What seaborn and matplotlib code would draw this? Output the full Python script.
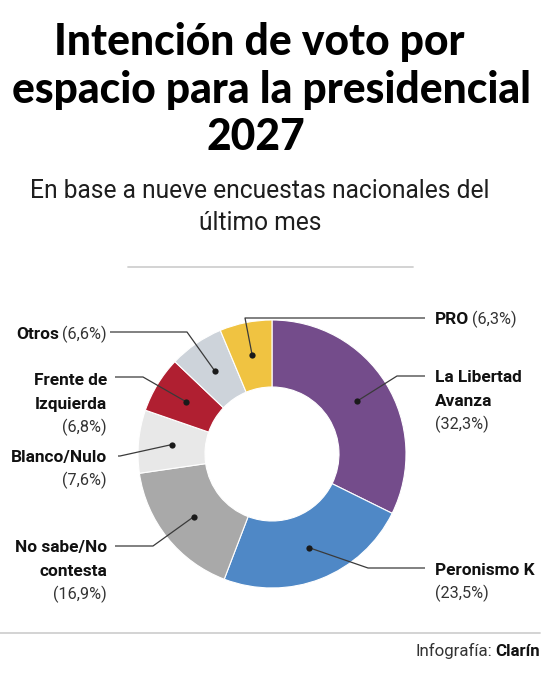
import matplotlib
matplotlib.use("Agg")
import matplotlib.pyplot as plt
from matplotlib import font_manager
import numpy as np
import seaborn as sns

# data
parties = ["La Libertad Avanza", "Peronismo K", "No sabe/No contesta", "Blanco/Nulo",
           "Frente de Izquierda", "Otros", "PRO"]
shares = [32.3, 23.5, 16.9, 7.6, 6.8, 6.6, 6.3]
label_lines = [["La Libertad", "Avanza"], ["Peronismo K"], ["No sabe/No", "contesta"],
               ["Blanco/Nulo"], ["Frente de", "Izquierda"], ["Otros"], ["PRO"]]
inline_pct = [False, False, False, False, False, True, True]
colors = ["#744c8b", "#4f88c6", "#a9a9a9", "#e8e8e8", "#b01f31", "#cdd3da", "#f0c341"]

title_lines = ["Intención de voto por", "espacio para la presidencial", "2027"]
subtitle_lines = ["En base a nueve encuestas nacionales del", "último mes"]

# layout (image pixel coords, y down)
W, H = 546, 680
CX, CY, R = 272, 454, 134
side = ["R", "R", "L", "L", "L", "L", "R"]
first_base = [382, 575, 552, 462, 385, 339, 324]
elbow = [(397, 376), (368, 568), (153, 546), (120, 456), (143, 377), (187, 332), (245, 318)]
line_end = [425, 425, 115, 118, 115, 110, 425]

sns.set_theme(style="white")
names = {f.name for f in font_manager.fontManager.ttflist}
if "Lato" in names:
    title_font = dict(family="Lato", weight="black")
elif "Roboto" in names:
    title_font = dict(family="Roboto", weight="black")
else:
    title_font = dict(family="DejaVu Sans", weight="bold")
lab_font = "Roboto" if "Roboto" in names else "DejaVu Sans"
plt.rcParams["font.family"] = [lab_font, "DejaVu Sans"]

fig = plt.figure(figsize=(W / 100, H / 100), dpi=100)
ax = fig.add_axes([0, 0, 1, 1])
Y = lambda y: H - y

pal = sns.color_palette(colors)
wedges, _ = ax.pie(shares, colors=pal, startangle=90, counterclock=False, radius=R,
                   center=(CX, Y(CY)), wedgeprops=dict(width=R / 2, edgecolor="white", linewidth=0.8))
ax.set_xlim(0, W)
ax.set_ylim(0, H)
ax.axis("off")

renderer = fig.canvas.get_renderer()


def fit(t, target):
    w = t.get_window_extent(renderer=renderer).width
    t.set_fontsize(t.get_fontsize() * target / w)
    return t.get_fontsize()


def width(t):
    return t.get_window_extent(renderer=renderer).width


# title
t = ax.text(271, Y(103), title_lines[1], ha="center", va="baseline", color="black", fontsize=27, **title_font)
fs = fit(t, 518)
ax.text(259, Y(55), title_lines[0], ha="center", va="baseline", color="black", fontsize=fs, **title_font)
ax.text(256, Y(150), title_lines[2], ha="center", va="baseline", color="black", fontsize=fs, **title_font)

# subtitle
t = ax.text(260, Y(198), subtitle_lines[0], ha="center", va="baseline", color="#1e1e1e",
            fontsize=16, fontweight="normal")
sfs = fit(t, 460)
ax.text(260, Y(230), subtitle_lines[1], ha="center", va="baseline", color="#1e1e1e",
        fontsize=sfs, fontweight="normal")

ax.plot([128, 413], [Y(267), Y(267)], color="#d0d0d0", lw=1.3)
ax.plot([0, 540], [Y(633), Y(633)], color="#d0d0d0", lw=1.3)

# label font sizes
probe = ax.text(0, 0, "Peronismo K", fontweight="bold", fontsize=11)
bfs = fit(probe, 100)
probe.remove()
probe = ax.text(0, 0, "(32,3%)", fontsize=11)
rfs = fit(probe, 54)
probe.remove()

lead = dict(color="#3a3a3a", lw=0.9, solid_capstyle="butt")
for i, w in enumerate(wedges):
    mid = np.deg2rad((w.theta1 + w.theta2) / 2)
    dx, dy = CX + 0.75 * R * np.cos(mid), Y(CY) + 0.75 * R * np.sin(mid)
    ex, ey = elbow[i]
    ax.plot([dx, ex, line_end[i]], [dy, Y(ey), Y(ey)], **lead)
    ax.plot(dx, dy, "o", color="#1a1a1a", ms=4.5, mec="none")

    pct = "({:.1f}%)".format(shares[i]).replace(".", ",")
    lines = label_lines[i]
    base = first_base[i]
    step = 23.5
    if side[i] == "R":
        x0 = 435
        for k, ln in enumerate(lines):
            tb = ax.text(x0, Y(base + k * step), ln, ha="left", va="baseline",
                         fontweight="bold", fontsize=bfs, color="#111111")
        if inline_pct[i]:
            ax.text(x0 + width(tb) + 3, Y(base), pct, ha="left", va="baseline",
                    fontsize=rfs, color="#333333")
        else:
            ax.text(x0, Y(base + len(lines) * step), pct, ha="left", va="baseline",
                    fontsize=rfs, color="#333333")
    else:
        x0 = 107
        if inline_pct[i]:
            tp = ax.text(x0, Y(base), pct, ha="right", va="baseline", fontsize=rfs, color="#333333")
            ax.text(x0 - width(tp) - 3, Y(base), lines[0], ha="right", va="baseline",
                    fontweight="bold", fontsize=bfs, color="#111111")
        else:
            for k, ln in enumerate(lines):
                ax.text(x0, Y(base + k * step), ln, ha="right", va="baseline",
                        fontweight="bold", fontsize=bfs, color="#111111")
            ax.text(x0, Y(base + len(lines) * step), pct, ha="right", va="baseline",
                    fontsize=rfs, color="#333333")

# credit
tc = ax.text(540, Y(656), "Clarín", ha="right", va="baseline", fontweight="bold",
             fontsize=12.2, color="#111111")
ax.text(540 - width(tc) - 3, Y(656), "Infografía:", ha="right", va="baseline",
        fontsize=12.2, color="#333333")

fig.savefig("out.png", dpi=100)
